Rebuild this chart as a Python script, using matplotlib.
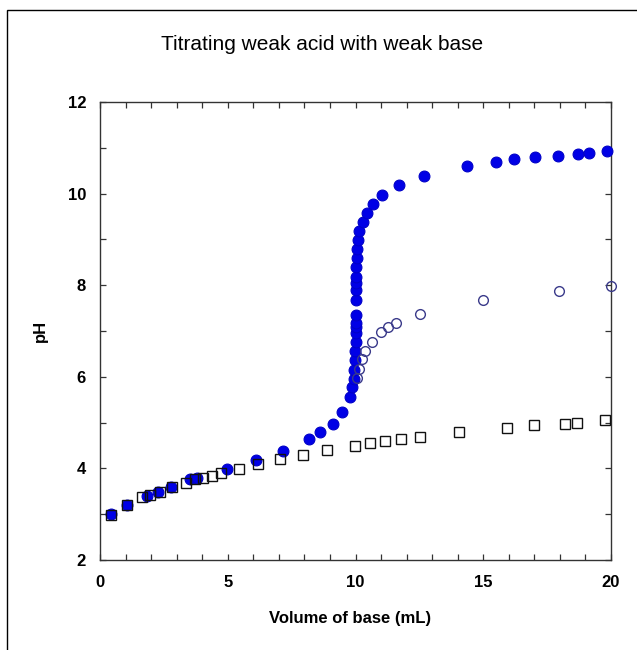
import matplotlib
matplotlib.use("Agg")
import matplotlib.pyplot as plt
from matplotlib.patches import Rectangle
from matplotlib.ticker import MultipleLocator

plt.rcParams['font.family'] = ['Liberation Sans', 'DejaVu Sans']

# Filled blue circles
filled_x = [0.43, 1.04, 1.82, 2.27, 2.76, 3.51, 3.78, 4.96, 6.11, 7.15, 8.17, 8.63, 9.10, 9.48,
            9.78, 9.87, 9.93, 9.95, 9.98, 9.99, 10.0, 10.0, 10.0, 10.0, 10.0, 10.0, 10.0, 10.0,
            10.01, 10.03, 10.05, 10.07, 10.09, 10.15, 10.28, 10.45, 10.67, 11.05, 11.72, 12.69,
            14.36, 15.51, 16.22, 17.01, 17.91, 18.72, 19.15, 19.84]
filled_ph = [3.0, 3.2, 3.4, 3.49, 3.59, 3.76, 3.8, 3.99, 4.19, 4.39, 4.64, 4.8, 4.98, 5.23,
             5.55, 5.78, 5.96, 6.15, 6.37, 6.57, 6.76, 6.96, 7.09, 7.17, 7.36, 7.67, 7.89, 8.05,
             8.18, 8.39, 8.59, 8.78, 8.99, 9.18, 9.38, 9.58, 9.78, 9.97, 10.18, 10.38,
             10.6, 10.69, 10.75, 10.79, 10.83, 10.87, 10.89, 10.93]

# Open circles
open_x = [10.05, 10.15, 10.27, 10.37, 10.65, 10.99, 11.26, 11.6, 12.52, 14.99, 17.96, 20.0]
open_ph = [5.97, 6.16, 6.38, 6.56, 6.76, 6.97, 7.08, 7.17, 7.38, 7.68, 7.87, 7.98]

# Open squares
sq_x = [0.43, 1.04, 1.65, 1.96, 2.36, 2.83, 3.37, 3.71, 4.05, 4.38, 4.72, 5.43, 6.20, 7.05,
        7.96, 8.90, 9.98, 10.56, 11.15, 11.80, 12.52, 14.05, 15.93, 16.99, 18.19, 18.68, 19.76]
sq_ph = [2.98, 3.2, 3.37, 3.42, 3.49, 3.59, 3.69, 3.76, 3.8, 3.84, 3.91, 3.98, 4.09, 4.2,
         4.29, 4.4, 4.5, 4.55, 4.59, 4.65, 4.69, 4.8, 4.88, 4.94, 4.98, 5.0, 5.05]

fig = plt.figure(figsize=(6.37, 6.5), dpi=100)
W, H = 637, 650
ax = fig.add_axes([100 / W, (H - 560) / H, (611 - 100) / W, (560 - 102) / H])

ax.plot(filled_x, filled_ph, linestyle='none', marker='o', markersize=7.8,
        markerfacecolor='#0000e6', markeredgecolor='#0000c8', markeredgewidth=0.8,
        zorder=3, clip_on=False)
ax.plot(sq_x, sq_ph, linestyle='none', marker='s', markersize=7,
        markerfacecolor='none', markeredgecolor='#111111', markeredgewidth=1.0, zorder=4, clip_on=False)
ax.plot(open_x, open_ph, linestyle='none', marker='o', markersize=7,
        markerfacecolor='none', markeredgecolor='#3a3a8a', markeredgewidth=1.0, zorder=5, clip_on=False)

ax.set_xlim(0, 20)
ax.set_ylim(2, 12)
ax.xaxis.set_major_locator(MultipleLocator(5))
ax.xaxis.set_minor_locator(MultipleLocator(1))
ax.yaxis.set_major_locator(MultipleLocator(2))
ax.yaxis.set_minor_locator(MultipleLocator(1))
ax.tick_params(which='both', direction='in', top=True, right=True, width=0.9, color='#333333')
ax.tick_params(which='major', length=4)
ax.tick_params(which='minor', length=4)
ax.tick_params(axis='x', which='major', pad=11, labelsize=12)
ax.tick_params(axis='y', which='major', pad=10, labelsize=12)
for lab in ax.get_xticklabels() + ax.get_yticklabels():
    lab.set_fontweight('bold')
for s in ax.spines.values():
    s.set_linewidth(1.0)
    s.set_color('#333333')

fig.text(322 / W, 1 - 45 / H, 'Titrating weak acid with weak base',
         ha='center', va='center', fontsize=15)
fig.text(350 / W, 1 - 618 / H, 'Volume of base (mL)',
         ha='center', va='center', fontsize=12, fontweight='bold')
fig.text(40 / W, 1 - 331 / H, 'pH', ha='center', va='center', rotation=90,
         fontsize=12, fontweight='bold')

fig.patches.append(Rectangle((7 / W, -0.5), 2, 1.5 - 10 / H, transform=fig.transFigure,
                             fill=False, edgecolor='black', linewidth=1.0))

fig.savefig('out.png', dpi=100)
